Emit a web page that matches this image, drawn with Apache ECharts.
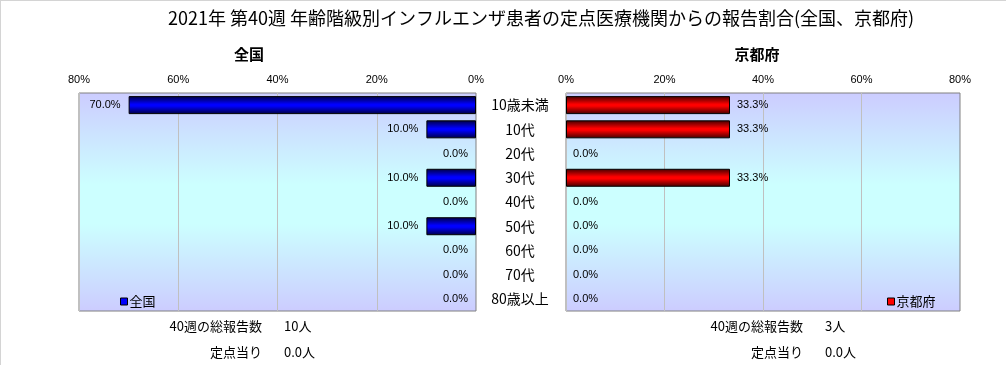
<!DOCTYPE html>
<html>
<head>
<meta charset="utf-8">
<script src="https://cdn.jsdelivr.net/npm/echarts@6/dist/echarts.min.js"></script>
<style>
html,body{margin:0;padding:0;background:#fff;}
#c{width:1006px;height:365px;}
</style>
</head>
<body>
<div id="c"></div>
<script>
const categories = ['10歳未満','10代','20代','30代','40代','50代','60代','70代','80歳以上'];
const nationalValues = [70.0, 10.0, 0.0, 10.0, 0.0, 10.0, 0.0, 0.0, 0.0];
const kyotoValues = [33.3, 33.3, 0.0, 33.3, 0.0, 0.0, 0.0, 0.0, 0.0];
const axisTicks = [0, 20, 40, 60, 80];
const titleText = '2021年 第40週 年齢階級別インフルエンザ患者の定点医療機関からの報告割合(全国、京都府)';
const nationalName = '全国';
const kyotoName = '京都府';
const nationalTotal = ['40週の総報告数', '10人'];
const nationalPerPoint = ['定点当り', '0.0人'];
const kyotoTotal = ['40週の総報告数', '3人'];
const kyotoPerPoint = ['定点当り', '0.0人'];

const FONT = '"Noto Sans CJK JP", "Liberation Sans", sans-serif';
const bgGrad = {type:'linear',x:0,y:0,x2:0,y2:1,colorStops:[
  {offset:0,color:'#ccccff'},{offset:0.42,color:'#ccffff'},{offset:0.6,color:'#ccffff'},{offset:1,color:'#ccccff'}]};
const blueGrad = {type:'linear',x:0,y:0,x2:0,y2:1,colorStops:[
  {offset:0,color:'#000040'},{offset:0.45,color:'#0000ff'},{offset:0.55,color:'#0000ff'},{offset:1,color:'#000040'}]};
const redGrad = {type:'linear',x:0,y:0,x2:0,y2:1,colorStops:[
  {offset:0,color:'#400000'},{offset:0.45,color:'#ff0000'},{offset:0.55,color:'#ff0000'},{offset:1,color:'#400000'}]};

function mk(vals){ return vals.map(v => v === 0 ? {value:0, itemStyle:{borderWidth:0}} : v); }

const xAxisCommon = {
  type:'value', min:axisTicks[0], max:axisTicks[axisTicks.length-1], interval:20, position:'top',
  axisLine:{show:false}, axisTick:{show:false},
  axisLabel:{formatter:'{value}%', fontSize:11, color:'#000', margin:8, fontFamily:'"Liberation Sans", sans-serif'},
  splitLine:{show:true, lineStyle:{color:'#c0c0c0', width:1}}
};

const chart = echarts.init(document.getElementById('c'));
chart.setOption({
  animation:false,
  backgroundColor:'#ffffff',
  title:[
    {text:titleText, left:536, top:4, textAlign:'center', textStyle:{fontSize:18, fontWeight:'normal', color:'#000', fontFamily:FONT}},
    {text:nationalName, left:244, top:42, textAlign:'center', textStyle:{fontSize:15, fontWeight:'bold', color:'#000', fontFamily:FONT}},
    {text:kyotoName, left:752, top:42, textAlign:'center', textStyle:{fontSize:15, fontWeight:'bold', color:'#000', fontFamily:FONT}}
  ],
  legend:[
    {data:[{name:nationalName, itemStyle:{color:'#0000ff', borderColor:'#000', borderWidth:1}}], left:115, top:290, itemWidth:7, itemHeight:7, itemGap:2,
     icon:'rect', textStyle:{fontSize:13, color:'#000', fontFamily:FONT, padding:[0,0,0,-3]}},
    {data:[{name:kyotoName, itemStyle:{color:'#ff0000', borderColor:'#000', borderWidth:1}}], left:882, top:290, itemWidth:7, itemHeight:7, itemGap:2,
     icon:'rect', textStyle:{fontSize:13, color:'#000', fontFamily:FONT, padding:[0,0,0,-3]}}
  ],
  grid:[
    {left:79, width:397, top:93, height:218, show:true, backgroundColor:bgGrad, borderColor:'#808080', borderWidth:1},
    {left:566, width:394, top:93, height:218, show:true, backgroundColor:bgGrad, borderColor:'#808080', borderWidth:1}
  ],
  xAxis:[
    Object.assign({}, xAxisCommon, {gridIndex:0, inverse:true}),
    Object.assign({}, xAxisCommon, {gridIndex:1})
  ],
  yAxis:[
    {type:'category', gridIndex:0, data:categories, inverse:true, position:'right',
     axisLine:{show:false}, axisTick:{show:false},
     axisLabel:{margin:44, align:'center', fontSize:14, color:'#000', fontFamily:FONT}},
    {type:'category', gridIndex:1, data:categories, inverse:true,
     axisLine:{show:false}, axisTick:{show:false}, axisLabel:{show:false}}
  ],
  series:[
    {name:nationalName, type:'bar', xAxisIndex:0, yAxisIndex:0, data:mk(nationalValues), barWidth:18,
     itemStyle:{color:blueGrad, borderColor:'#000', borderWidth:1},
     label:{show:true, position:'left', distance:8, fontSize:11, color:'#000', fontFamily:'"Liberation Sans", sans-serif',
            formatter:p => p.value.toFixed(1)+'%'}},
    {name:kyotoName, type:'bar', xAxisIndex:1, yAxisIndex:1, data:mk(kyotoValues), barWidth:18,
     itemStyle:{color:redGrad, borderColor:'#000', borderWidth:1},
     label:{show:true, position:'right', distance:7, fontSize:11, color:'#000', fontFamily:'"Liberation Sans", sans-serif',
            formatter:p => p.value.toFixed(1)+'%'}}
  ],
  graphic:[
    {type:'line', shape:{x1:0,y1:0.5,x2:1006,y2:0.5}, style:{stroke:'#d4d4d4', lineWidth:1}},
    {type:'line', shape:{x1:0.5,y1:0,x2:0.5,y2:365}, style:{stroke:'#d4d4d4', lineWidth:1}},
    {type:'text', x:262, y:326, style:{text:nationalTotal[0], align:'right', verticalAlign:'middle', fill:'#000', font:'13px '+FONT}},
    {type:'text', x:284, y:326, style:{text:nationalTotal[1], align:'left', verticalAlign:'middle', fill:'#000', font:'13px '+FONT}},
    {type:'text', x:262, y:352, style:{text:nationalPerPoint[0], align:'right', verticalAlign:'middle', fill:'#000', font:'13px '+FONT}},
    {type:'text', x:284, y:352, style:{text:nationalPerPoint[1], align:'left', verticalAlign:'middle', fill:'#000', font:'13px '+FONT}},
    {type:'text', x:803, y:326, style:{text:kyotoTotal[0], align:'right', verticalAlign:'middle', fill:'#000', font:'13px '+FONT}},
    {type:'text', x:825, y:326, style:{text:kyotoTotal[1], align:'left', verticalAlign:'middle', fill:'#000', font:'13px '+FONT}},
    {type:'text', x:803, y:352, style:{text:kyotoPerPoint[0], align:'right', verticalAlign:'middle', fill:'#000', font:'13px '+FONT}},
    {type:'text', x:825, y:352, style:{text:kyotoPerPoint[1], align:'left', verticalAlign:'middle', fill:'#000', font:'13px '+FONT}}
  ]
});
</script>
</body>
</html>
